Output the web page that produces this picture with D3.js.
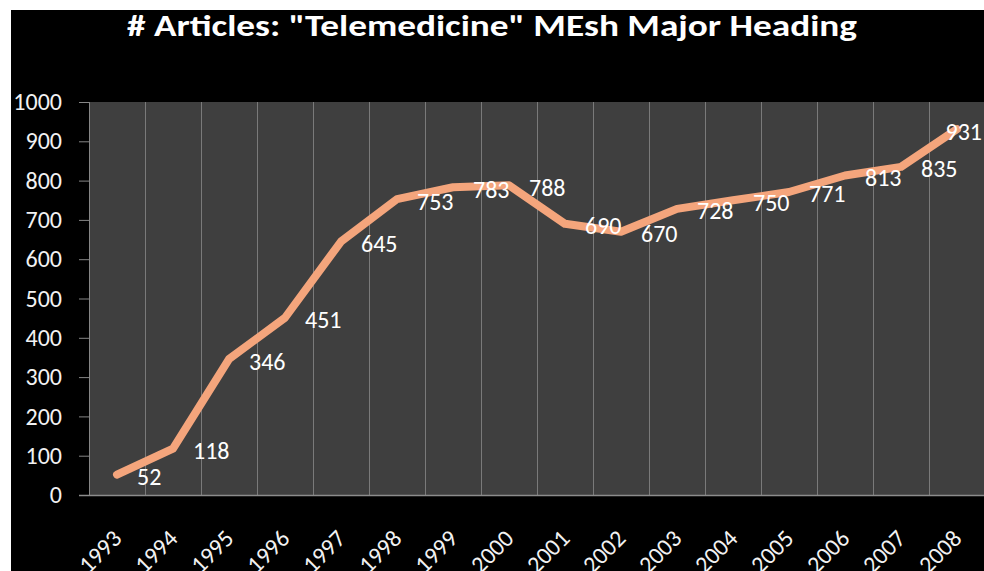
<!DOCTYPE html>
<html>
<head>
<meta charset="utf-8">
<script src="https://cdn.jsdelivr.net/npm/d3@7"></script>
<style>
	html, body { margin: 0; padding: 0; background: #fff; }
	svg { display: block; }
	text { font-family: Carlito, Lato, "Open Sans", sans-serif; }
</style>
</head>
<body>
<div id="container"></div>
<script>
// data
const years = ["1993", "1994", "1995", "1996", "1997", "1998", "1999", "2000",
	"2001", "2002", "2003", "2004", "2005", "2006", "2007", "2008"]
const articles = [52, 118, 346, 451, 645, 753, 783, 788, 690, 670, 728, 750, 771, 813, 835, 931]
const yTicks = [0, 100, 200, 300, 400, 500, 600, 700, 800, 900, 1000]
const title = "# Articles: \"Telemedicine\" MEsh Major Heading"

// dimensions
const width = 984
const height = 571
const margin = { top: 102, left: 89, bottom: 76 }
const step = 56
const plotRight = margin.left + step * years.length
const plotBottom = height - margin.bottom
const fontSize = 24

const svg = d3.select("#container")
	.append("svg")
	.attr("width", width)
	.attr("height", height)

// black slide background with white border top/left
svg.append("rect")
	.attr("x", 11).attr("y", 10)
	.attr("width", width - 11).attr("height", height - 10)
	.attr("fill", "#000")

// scales
const x = d3.scaleBand()
	.domain(years)
	.range([margin.left, plotRight])
	.padding(0)

const y = d3.scaleLinear()
	.domain([0, 1000])
	.range([plotBottom, margin.top])

// plot area
svg.append("rect")
	.attr("x", margin.left)
	.attr("y", margin.top)
	.attr("width", plotRight - margin.left)
	.attr("height", plotBottom - margin.top)
	.attr("fill", "#3f3f3f")

// vertical gridlines on category boundaries
svg.append("g")
	.selectAll("line")
	.data(years)
	.join("line")
	.attr("x1", d => x(d) + 0.5)
	.attr("x2", d => x(d) + 0.5)
	.attr("y1", margin.top)
	.attr("y2", plotBottom)
	.attr("stroke", "#7a7a7a")
	.attr("stroke-width", 1)

// y axis
const yAxis = svg.append("g")
	.attr("transform", `translate(${margin.left},0)`)
	.call(d3.axisLeft(y).tickValues(yTicks).tickSize(10).tickPadding(17).tickFormat(d3.format("d")))
yAxis.select(".domain").attr("stroke", "#868686")
yAxis.selectAll(".tick line").attr("stroke", "#868686")
yAxis.selectAll(".tick text")
	.attr("fill", "#f2f2f2")
	.attr("font-size", fontSize)

// x axis line
svg.append("line")
	.attr("x1", margin.left - 10)
	.attr("x2", width)
	.attr("y1", plotBottom + 0.5)
	.attr("y2", plotBottom + 0.5)
	.attr("stroke", "#8c8c8c")
	.attr("stroke-width", 1.5)

// x labels, rotated
svg.append("g")
	.selectAll("text")
	.data(years)
	.join("text")
	.attr("transform", d => `translate(${x(d) + x.bandwidth() / 2 + 6},${plotBottom + 45}) rotate(-45)`)
	.attr("text-anchor", "end")
	.attr("fill", "#f2f2f2")
	.attr("font-size", fontSize)
	.text(d => d)

// line
const line = d3.line()
	.x((d, i) => x(years[i]) + x.bandwidth() / 2)
	.y(d => y(d))

svg.append("path")
	.datum(articles)
	.attr("d", line)
	.attr("fill", "none")
	.attr("stroke", "#f4a57c")
	.attr("stroke-width", 8)
	.attr("stroke-linejoin", "round")
	.attr("stroke-linecap", "round")

// data labels, to the right of each point
const labels = svg.append("g")
	.selectAll("text")
	.data(articles)
	.join("text")
	.attr("x", (d, i) => x(years[i]) + x.bandwidth() / 2 + 20)
	.attr("y", d => y(d) + 2)
	.attr("dominant-baseline", "central")
	.attr("fill", "#fff")
	.attr("font-size", fontSize)
	.text(d => d)

// keep labels inside the slide
labels.each(function () {
	const t = d3.select(this)
	const w = this.getComputedTextLength()
	if (+t.attr("x") + w > width) t.attr("x", width - w - 2)
})

// title
svg.append("text")
	.attr("x", width / 2)
	.attr("y", 36)
	.attr("text-anchor", "middle")
	.attr("fill", "#fff")
	.attr("font-size", 31)
	.attr("font-weight", "bold")
	.attr("textLength", 730)
	.attr("lengthAdjust", "spacingAndGlyphs")
	.text(title)
</script>
</body>
</html>
